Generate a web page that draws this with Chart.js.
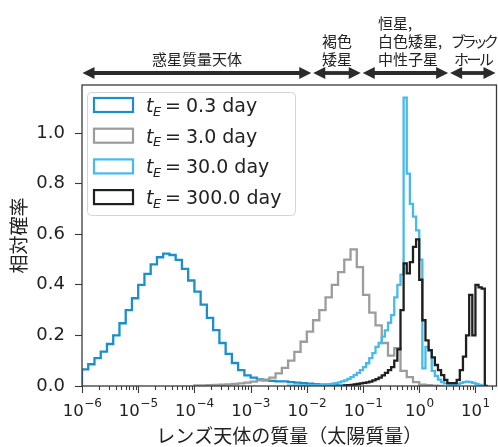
<!DOCTYPE html>
<html>
<head>
<meta charset="utf-8">
<script src="https://cdn.jsdelivr.net/npm/chart.js@4.4.1/dist/chart.umd.min.js"></script>
<style>
  html, body { margin: 0; padding: 0; background: #fff; }
  #wrap { width: 498px; height: 447px; }
</style>
</head>
<body>
<div id="wrap"><canvas id="chart" width="498" height="447"></canvas></div>
<script>
// axis ranges
const xMin = 1e-6, xMax = 23.7;
const yMin = 0, yMax = 1.19;

// tick labels
const xMajorTicks = [1e-6, 1e-5, 1e-4, 1e-3, 1e-2, 1e-1, 1, 10];
const xTickExponents = ['\u22126', '\u22125', '\u22124', '\u22123', '\u22122', '\u22121', '0', '1'];
const xMinorSteps = [2, 3, 4, 5, 6, 7, 8, 9];
const yTicks = [0, 0.2, 0.4, 0.6, 0.8, 1.0];

// series (histograms in log10 mass, bin width in dex, first left edge in log10)
const seriesLabels = ['0.3 day', '3.0 day', '30.0 day', '300.0 day'];
const seriesColors = ['#1a8fca', '#9c9c9c', '#46baea', '#1f1f1f'];
const binStarts = [-6, -4, -7 / 3, -4 / 3];
const binWidths = [1 / 9, 1 / 9, 1 / 18, 1 / 18];

const tE03 = [0.050, 0.066, 0.086, 0.110, 0.136, 0.166, 0.200, 0.248, 0.300, 0.347,
  0.400, 0.443, 0.481, 0.509, 0.523, 0.518, 0.499, 0.463, 0.417, 0.373,
  0.322, 0.269, 0.221, 0.170, 0.127, 0.091, 0.063, 0.042, 0.033, 0.026,
  0.022, 0.020, 0.018, 0.018, 0.015, 0.013, 0.011, 0.009, 0.007, 0.005,
  0.004, 0.003, 0.002, 0.001];
const tE3 = [0.001, 0.002, 0.002, 0.003, 0.004, 0.005, 0.006, 0.008, 0.010, 0.013,
  0.017, 0.022, 0.025, 0.033, 0.050, 0.072, 0.100, 0.135, 0.175, 0.215,
  0.260, 0.300, 0.350, 0.400, 0.450, 0.500, 0.540, 0.470, 0.360, 0.290,
  0.240, 0.170, 0.120, 0.150, 0.060, 0.035, 0.015, 0.005, 0.003, 0.001];
const tE30 = [0.001, 0.001, 0.001, 0.002, 0.002, 0.002, 0.002, 0.003, 0.003, 0.003,
  0.004, 0.004, 0.005, 0.006, 0.007, 0.009, 0.011, 0.014, 0.018, 0.022,
  0.028, 0.035, 0.043, 0.052, 0.063, 0.075, 0.090, 0.110, 0.130, 0.155,
  0.170, 0.195, 0.220, 0.250, 0.280, 0.350, 0.400, 0.440, 1.140, 0.840,
  0.720, 0.670, 0.615, 0.500, 0.070, 0.155, 0.140, 0.060, 0.040, 0.025,
  0.015, 0.010, 0.006, 0.005, 0.005, 0.008, 0.012, 0.015, 0.017, 0.015,
  0.012, 0.008, 0.004];
const tE300 = [0.001, 0.002, 0.003, 0.004, 0.006, 0.008, 0.010, 0.012, 0.014, 0.017,
  0.022, 0.027, 0.033, 0.042, 0.052, 0.063, 0.075, 0.100, 0.145, 0.300,
  0.485, 0.445, 0.490, 0.550, 0.580, 0.420, 0.260, 0.180, 0.142, 0.113,
  0.083, 0.063, 0.043, 0.024, 0.011, 0.011, 0.011, 0.024, 0.063, 0.116,
  0.200, 0.360, 0.200, 0.400, 0.390, 0.385];
const seriesValues = [tE03, tE3, tE30, tE300];

// mass class annotations above the plot
const regionLabels = [['惑星質量天体'], ['褐色', '矮星'], ['恒星,', '白色矮星,', '中性子星'], ['ブラック', 'ホール']];
const regionBounds = [[1e-6, 0.0125], [0.0125, 0.095], [0.095, 3.4], [3.4, 23.7]];

const xTitle = 'レンズ天体の質量（太陽質量）';
const yTitle = '相対確率';

const numFont = "'DejaVu Sans', 'Noto Sans CJK JP', sans-serif";
const jpFont = "'Noto Sans CJK JP', 'DejaVu Sans', sans-serif";
const textColor = '#222';
const axisColor = '#3a3a3a';

function histPoints(startLog, width, values) {
  const edge = i => Math.pow(10, startLog + i * width);
  const pts = [{ x: edge(0), y: 0 }];
  values.forEach((v, i) => pts.push({ x: edge(i), y: v }));
  pts.push({ x: edge(values.length), y: 0 });
  return pts;
}

const datasets = seriesValues.map((vals, i) => ({
  label: seriesLabels[i],
  data: histPoints(binStarts[i], binWidths[i], vals),
  borderColor: seriesColors[i],
  borderWidth: 2.3,
  stepped: 'after',
  pointRadius: 0,
  fill: false,
  borderJoinStyle: 'miter',
  order: seriesValues.length - i
}));

function drawArrow(ctx, x1, x2, y) {
  const head = 12, half = 6;
  ctx.save();
  ctx.strokeStyle = '#2b2b2b';
  ctx.fillStyle = '#2b2b2b';
  ctx.lineWidth = 3.8;
  ctx.beginPath();
  ctx.moveTo(x1 + head - 1, y);
  ctx.lineTo(x2 - head + 1, y);
  ctx.stroke();
  ctx.beginPath();
  ctx.moveTo(x1, y);
  ctx.lineTo(x1 + head, y - half);
  ctx.lineTo(x1 + head, y + half);
  ctx.closePath();
  ctx.fill();
  ctx.beginPath();
  ctx.moveTo(x2, y);
  ctx.lineTo(x2 - head, y - half);
  ctx.lineTo(x2 - head, y + half);
  ctx.closePath();
  ctx.fill();
  ctx.restore();
}

const decorations = {
  id: 'decorations',
  afterDraw(chart) {
    const ctx = chart.ctx;
    const area = chart.chartArea;
    const xs = chart.scales.x;

    // frame
    ctx.save();
    ctx.strokeStyle = axisColor;
    ctx.lineWidth = 1.3;
    ctx.strokeRect(area.left, area.top, area.right - area.left, area.bottom - area.top);

    // x ticks
    ctx.lineWidth = 1.1;
    ctx.beginPath();
    xMajorTicks.forEach(t => {
      const px = Math.round(xs.getPixelForValue(t)) + 0.5;
      ctx.moveTo(px, area.bottom);
      ctx.lineTo(px, area.bottom + 7);
      xMinorSteps.forEach(m => {
        const v = t * m;
        if (v > xMax) return;
        const mx = Math.round(xs.getPixelForValue(v)) + 0.5;
        ctx.moveTo(mx, area.bottom);
        ctx.lineTo(mx, area.bottom + 4);
      });
    });
    ctx.stroke();

    // x tick labels: 10 with superscript exponent
    ctx.fillStyle = textColor;
    ctx.textBaseline = 'alphabetic';
    xMajorTicks.forEach((t, i) => {
      const px = xs.getPixelForValue(t);
      ctx.font = '16.5px ' + numFont;
      const wBase = ctx.measureText('10').width;
      ctx.font = '12px ' + numFont;
      const wExp = ctx.measureText(xTickExponents[i]).width;
      const left = px - (wBase + wExp) / 2;
      ctx.font = '16.5px ' + numFont;
      ctx.textAlign = 'left';
      ctx.fillText('10', left, 416);
      ctx.font = '12px ' + numFont;
      ctx.fillText(xTickExponents[i], left + wBase + 0.5, 407);
    });

    // axis titles
    ctx.font = '19px ' + jpFont;
    ctx.textAlign = 'center';
    ctx.textBaseline = 'middle';
    ctx.fillText(xTitle, (area.left + area.right) / 2, 436);
    ctx.save();
    ctx.translate(19, (area.top + area.bottom) / 2);
    ctx.rotate(-Math.PI / 2);
    ctx.fillText(yTitle, 0, 0);
    ctx.restore();

    // region arrows and labels
    ctx.font = '15px ' + jpFont;
    ctx.textBaseline = 'middle';
    regionBounds.forEach((b, i) => {
      const x1 = xs.getPixelForValue(b[0]) + (i === 0 ? 0.5 : 1);
      const x2 = xs.getPixelForValue(b[1]) - 1;
      drawArrow(ctx, x1, x2, 73);
      const lines = regionLabels[i];
      const mid = (x1 + x2) / 2;
      lines.forEach((l, j) => {
        const y = 59 - (lines.length - 1 - j) * 18;
        if (i === 2) {
          ctx.letterSpacing = '0px';
          ctx.textAlign = 'left';
          ctx.fillText(l, 378, y);
        } else if (i === 3) {
          ctx.letterSpacing = j === 0 ? '-4px' : '-2.5px';
          ctx.textAlign = 'center';
          ctx.fillText(l, mid, y);
        } else {
          ctx.letterSpacing = '0px';
          ctx.textAlign = 'center';
          ctx.fillText(l, mid, y);
        }
      });
    });
    ctx.letterSpacing = '0px';

    // legend
    const lx = 87, ly = 92, lw = 208, lh = 123;
    ctx.beginPath();
    ctx.roundRect(lx + 0.5, ly + 0.5, lw, lh, 4);
    ctx.fillStyle = 'rgba(255,255,255,0.85)';
    ctx.fill();
    ctx.strokeStyle = '#d4d4d4';
    ctx.lineWidth = 1;
    ctx.stroke();
    seriesLabels.forEach((lab, i) => {
      const cy = 105 + i * 30.7;
      ctx.strokeStyle = seriesColors[i];
      ctx.lineWidth = 2.2;
      ctx.fillStyle = '#fff';
      ctx.fillRect(94, cy - 7, 39, 14);
      ctx.strokeRect(94, cy - 7, 39, 14);
      ctx.fillStyle = textColor;
      ctx.textAlign = 'left';
      ctx.textBaseline = 'alphabetic';
      ctx.font = 'italic 19px ' + numFont;
      ctx.fillText('t', 146, cy + 7);
      ctx.font = 'italic 13px ' + numFont;
      ctx.fillText('E', 153, cy + 10.5);
      ctx.font = '19px ' + numFont;
      ctx.fillText('=', 165, cy + 7);
      ctx.fillText(lab, 186, cy + 7);
    });
    ctx.restore();
  }
};

new Chart(document.getElementById('chart'), {
  type: 'line',
  data: { datasets: datasets },
  options: {
    responsive: false,
    animation: false,
    devicePixelRatio: 1,
    layout: { padding: { top: 85, right: 1.5, left: 0, bottom: 0 } },
    plugins: { legend: { display: false }, tooltip: { enabled: false } },
    scales: {
      x: {
        type: 'logarithmic',
        min: xMin,
        max: xMax,
        grid: { display: false },
        border: { display: false },
        ticks: { display: false },
        afterFit: s => { s.height = 61; }
      },
      y: {
        type: 'linear',
        min: yMin,
        max: yMax,
        afterBuildTicks: s => { s.ticks = yTicks.map(v => ({ value: v })); },
        grid: { drawOnChartArea: false, tickLength: 7, tickColor: axisColor, tickWidth: 1.1 },
        border: { display: false },
        ticks: {
          padding: 10,
          color: textColor,
          font: { family: numFont, size: 18 },
          callback: v => v.toFixed(1)
        },
        afterFit: s => { s.width = 82; }
      }
    }
  },
  plugins: [decorations]
});
</script>
</body>
</html>
